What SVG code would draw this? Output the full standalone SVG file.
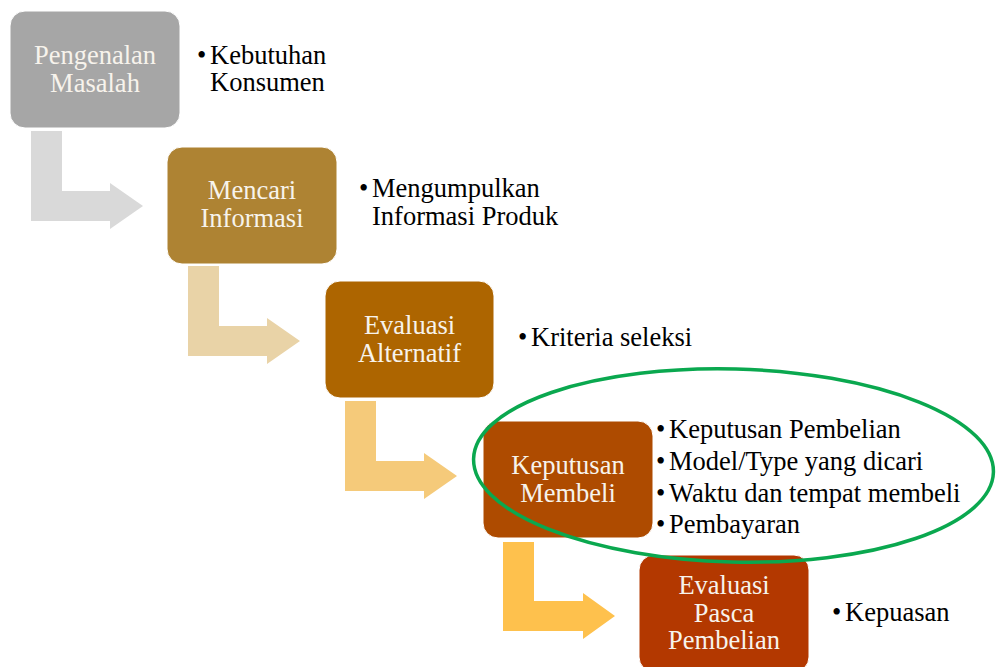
<svg xmlns="http://www.w3.org/2000/svg" width="999" height="667" viewBox="0 0 999 667">
<style>
.box{stroke:#ffffff;stroke-width:1}
.bt{font-family:"Liberation Serif","Times New Roman",serif;font-size:26.5px;fill:#f7f3ec;text-anchor:middle}
.lt{font-family:"Liberation Serif","Times New Roman",serif;font-size:26.5px;fill:#000000}
</style>
<rect width="999" height="667" fill="#ffffff"/>
<g id="connectors">
<polygon fill="#d9d9d9" points="31,131 62,131 62,191 110,191 110,183 143,206 110,229 110,221 31,221"/>
<polygon fill="#e9d3a7" points="188,266 219,266 219,326 267,326 267,318 300,341 267,364 267,356 188,356"/>
<polygon fill="#f5ca7a" points="345,401 376,401 376,461 424,461 424,453 457,476 424,499 424,491 345,491"/>
<polygon fill="#fec14d" points="503,542 534,542 534,601 583,601 583,593 615,616 583,639 583,631 503,631"/>
</g>
<g id="node1">
<rect class="box" x="10" y="11" width="170" height="117" rx="15" fill="#a6a6a6"/>
<text class="bt" x="95" y="64">Pengenalan</text>
<text class="bt" x="95" y="92">Masalah</text>
</g>
<g id="label1">
<text class="lt" x="197" y="64">•</text>
<text class="lt" x="210" y="64">Kebutuhan</text>
<text class="lt" x="210" y="91">Konsumen</text>
</g>
<g id="node2">
<rect class="box" x="167" y="147" width="170" height="117" rx="15" fill="#ae8333"/>
<text class="bt" x="252" y="199">Mencari</text>
<text class="bt" x="252" y="227">Informasi</text>
</g>
<g id="label2">
<text class="lt" x="359" y="197">•</text>
<text class="lt" x="372" y="197">Mengumpulkan</text>
<text class="lt" x="372" y="225">Informasi Produk</text>
</g>
<g id="node3">
<rect class="box" x="325" y="281" width="169" height="117" rx="15" fill="#ad6500"/>
<text class="bt" x="409.5" y="334">Evaluasi</text>
<text class="bt" x="409.5" y="362">Alternatif</text>
</g>
<g id="label3">
<text class="lt" x="518" y="346">•</text>
<text class="lt" x="531" y="346">Kriteria seleksi</text>
</g>
<g id="node4">
<rect class="box" x="483" y="421" width="170" height="117" rx="15" fill="#ae4b00"/>
<text class="bt" x="568" y="474">Keputusan</text>
<text class="bt" x="568" y="502">Membeli</text>
</g>
<g id="label4">
<text class="lt" x="656" y="438">•</text>
<text class="lt" x="669" y="438">Keputusan Pembelian</text>
<text class="lt" x="656" y="470">•</text>
<text class="lt" x="669" y="470">Model/Type yang dicari</text>
<text class="lt" x="656" y="502">•</text>
<text class="lt" x="669" y="502">Waktu dan tempat membeli</text>
<text class="lt" x="656" y="533">•</text>
<text class="lt" x="669" y="533">Pembayaran</text>
</g>
<g id="node5">
<rect class="box" x="639" y="555" width="170" height="117" rx="15" fill="#b33800"/>
<text class="bt" x="724" y="594">Evaluasi</text>
<text class="bt" x="724" y="622">Pasca</text>
<text class="bt" x="724" y="649">Pembelian</text>
</g>
<g id="label5">
<text class="lt" x="832" y="621">•</text>
<text class="lt" x="845" y="621">Kepuasan</text>
</g>
<g id="highlight">
<ellipse cx="733.5" cy="465.5" rx="260" ry="96.5" fill="none" stroke="#0aa84f" stroke-width="3.5" transform="rotate(1.5 733.5 465.5)"/>
</g>
</svg>
